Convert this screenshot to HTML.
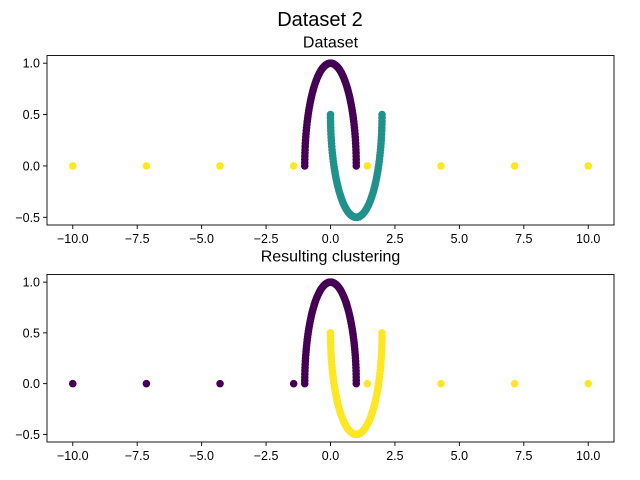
<!DOCTYPE html>
<html><head><meta charset="utf-8"><style>
body{margin:0;background:#fff}
svg{display:block;font-family:"Liberation Sans","DejaVu Sans",sans-serif}
</style></head><body>
<svg id="fig" width="640" height="480">
<rect width="640" height="480" fill="#fff"/>
<text x="320" y="26" font-size="20" text-anchor="middle">Dataset 2</text>
</svg>
<script>
const xTicks=[-10,-7.5,-5,-2.5,0,2.5,5,7.5,10];
const xTickLabels=["−10.0","−7.5","−5.0","−2.5","0.0","2.5","5.0","7.5","10.0"];
const yTicks=[1.0,0.5,0.0,-0.5];
const yTickLabels=["1.0","0.5","0.0","−0.5"];
const outlierX=[-10,-7.142857,-4.285714,-1.428571,1.428571,4.285714,7.142857,10];
const outlierY=[0,0,0,0,0,0,0,0];
const outlierLabelTrue=[2,2,2,2,2,2,2,2];
const outlierLabelPred=[0,0,0,0,1,1,1,1];
const nMoon=100;
const palette3=["#440154","#21918c","#fde725"];
const palette2=["#440154","#fde725"];
const NS="http://www.w3.org/2000/svg";
const svg=document.getElementById('fig');
function mk(t,a,p){const e=document.createElementNS(NS,t);for(const k in a)e.setAttribute(k,a[k]);(p||svg).appendChild(e);return e;}
const moonX=[],moonY=[],moonL=[];
for(let i=0;i<nMoon;i++){const t=Math.PI*i/(nMoon-1);moonX.push(Math.cos(t));moonY.push(Math.sin(t));moonL.push(0);}
for(let i=0;i<nMoon;i++){const t=Math.PI*i/(nMoon-1);moonX.push(1-Math.cos(t));moonY.push(0.5-Math.sin(t));moonL.push(1);}
function panel(top,bottom,title,titleOff,name,colorFn){
  const L=47,R=614,xmin=-11,xmax=11,ymin=-0.575,ymax=1.075;
  const sx=v=>L+(v-xmin)/(xmax-xmin)*(R-L);
  const sy=v=>bottom-(v-ymin)/(ymax-ymin)*(bottom-top);
  const g=mk('g',{});
  
  
  const pts=mk('g',{},g);
  
  for(let i=0;i<moonX.length;i++){
    const c=mk('circle',{cx:sx(moonX[i]),cy:sy(moonY[i]),r:3.8,fill:colorFn('moon',i)},pts);
    
  }
  for(let i=0;i<outlierX.length;i++){
    const c=mk('circle',{cx:sx(outlierX[i]),cy:sy(outlierY[i]),r:3.8,fill:colorFn('out',i)},pts);
    
  }
  mk('rect',{x:L,y:top,width:R-L,height:bottom-top,fill:'none',stroke:'#000','stroke-width':0.9},g);
  const t=mk('text',{x:(L+R)/2,y:top-titleOff,'font-size':16,'text-anchor':'middle'},g);t.textContent=title;
  
  xTicks.forEach((v,i)=>{const x=sx(v);mk('line',{x1:x,x2:x,y1:bottom,y2:bottom+4,stroke:'#000','stroke-width':0.9},g);
    const tx=mk('text',{x:x,y:bottom+18,'font-size':12.5,'text-anchor':'middle'},g);tx.textContent=xTickLabels[i];
    });
  yTicks.forEach((v,i)=>{const y=sy(v);mk('line',{x1:L,x2:L-4,y1:y,y2:y,stroke:'#000','stroke-width':0.9},g);
    const tx=mk('text',{x:L-7,y:y+4.5,'font-size':12.5,'text-anchor':'end'},g);tx.textContent=yTickLabels[i];
    });
}
panel(55.5,225,'Dataset',8,'dataset-panel',(k,i)=>k==='moon'?palette3[moonL[i]]:palette3[outlierLabelTrue[i]]);
panel(274.5,442,'Resulting clustering',13,'clustering-panel',(k,i)=>k==='moon'?palette2[moonL[i]]:palette2[outlierLabelPred[i]]);
</script>
</body></html>
